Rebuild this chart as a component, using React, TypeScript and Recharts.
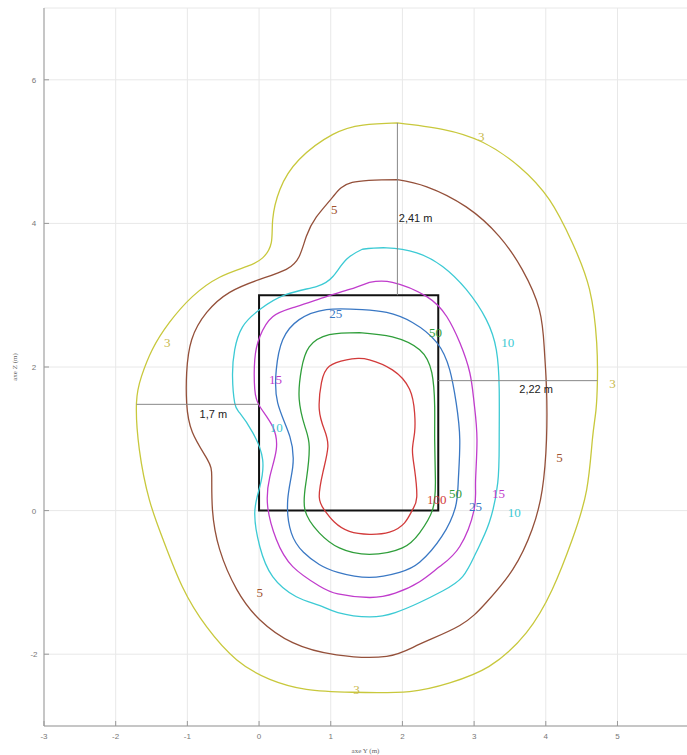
import {
  ComposedChart,
  Line,
  Scatter,
  XAxis,
  YAxis,
  CartesianGrid,
  ReferenceArea,
  ReferenceLine,
} from 'recharts';

type Pt = [number, number];

const xTicks = [-3, -2, -1, 0, 1, 2, 3, 4, 5];
const yTicks = [-2, 0, 2, 4, 6];

// iso-contours (axe Y, axe Z), clockwise from the top
const c3: Pt[] = [
  [1.93, 5.4], [2.56, 5.31], [3.12, 5.13], [3.63, 4.79], [4.05, 4.33], [4.37, 3.73],
  [4.61, 3.08], [4.71, 2.34], [4.72, 1.8], [4.7, 1.4], [4.65, 0.99], [4.57, 0.29],
  [4.37, -0.4], [4.09, -1.1], [3.73, -1.7], [3.21, -2.17], [2.66, -2.4], [2.1, -2.52],
  [1.3, -2.53], [0.66, -2.49], [0.15, -2.35], [-0.31, -2.08], [-0.73, -1.62],
  [-1.07, -1.06], [-1.34, -0.4], [-1.53, 0.15], [-1.67, 0.85], [-1.71, 1.5],
  [-1.64, 1.87], [-1.49, 2.24], [-1.25, 2.62], [-0.93, 2.98], [-0.55, 3.25],
  [-0.17, 3.4], [0.05, 3.52], [0.17, 3.73], [0.19, 4.05], [0.29, 4.47], [0.56, 4.89],
  [1.03, 5.24], [1.45, 5.37], [1.93, 5.4],
];
const c5: Pt[] = [
  [1.93, 4.61], [2.34, 4.51], [2.89, 4.23], [3.35, 3.82], [3.67, 3.36], [3.91, 2.8],
  [3.98, 2.24], [4.01, 1.7], [4.01, 0.99], [3.95, 0.29], [3.81, -0.26], [3.54, -0.82],
  [3.17, -1.28], [2.8, -1.6], [2.24, -1.86], [1.78, -2.03], [1.08, -2.01], [0.47, -1.84],
  [0.01, -1.52], [-0.31, -1.1], [-0.55, -0.54], [-0.65, 0.01], [-0.66, 0.47],
  [-0.72, 0.71], [-0.93, 1.09], [-1.01, 1.5], [-1.01, 1.92], [-0.94, 2.38],
  [-0.73, 2.76], [-0.41, 3.04], [0.01, 3.22], [0.38, 3.36], [0.56, 3.54], [0.66, 3.82],
  [0.8, 4.09], [1.03, 4.37], [1.3, 4.57], [1.93, 4.61],
];
const c10: Pt[] = [
  [1.44, 3.64], [1.78, 3.66], [2.2, 3.59], [2.56, 3.4], [2.89, 3.08], [3.17, 2.66],
  [3.31, 2.24], [3.35, 1.7], [3.35, 0.99], [3.33, 0.39], [3.21, -0.17], [3.03, -0.58],
  [2.84, -0.92], [2.56, -1.12], [2.24, -1.28], [1.9, -1.42], [1.54, -1.48], [1.1, -1.42],
  [0.84, -1.32], [0.52, -1.2], [0.19, -0.92], [0.01, -0.5], [-0.06, -0.03], [0.01, 0.33],
  [0.05, 0.71], [-0.09, 1.09], [-0.27, 1.36], [-0.34, 1.5], [-0.37, 1.87], [-0.34, 2.24],
  [-0.23, 2.56], [0.01, 2.8], [0.38, 3.01], [0.8, 3.12], [1.03, 3.26], [1.22, 3.5],
  [1.44, 3.64],
];
const c15: Pt[] = [
  [1.54, 3.18], [1.86, 3.18], [2.34, 2.98], [2.62, 2.7], [2.8, 2.34], [2.94, 1.92],
  [3.0, 1.5], [3.04, 0.99], [3.02, 0.39], [3.0, 0.01], [2.8, -0.5], [2.52, -0.78],
  [2.24, -0.99], [1.9, -1.15], [1.54, -1.21], [1.1, -1.16], [0.84, -1.05], [0.47, -0.78],
  [0.24, -0.4], [0.12, 0.06], [0.15, 0.47], [0.24, 0.85], [0.19, 1.17], [0.01, 1.45],
  [-0.06, 1.69], [-0.06, 2.1], [0.01, 2.42], [0.19, 2.7], [0.52, 2.84], [0.94, 2.98],
  [1.26, 3.08], [1.54, 3.18],
];
const c25: Pt[] = [
  [1.44, 2.8], [1.78, 2.76], [2.14, 2.62], [2.48, 2.34], [2.66, 1.96], [2.75, 1.5],
  [2.8, 0.99], [2.78, 0.43], [2.74, 0.05], [2.55, -0.36], [2.24, -0.72], [1.96, -0.86],
  [1.54, -0.93], [1.1, -0.86], [0.84, -0.75], [0.62, -0.58], [0.45, -0.31], [0.4, 0.15],
  [0.47, 0.61], [0.43, 1.03], [0.26, 1.5], [0.24, 1.96], [0.33, 2.38], [0.56, 2.66],
  [0.94, 2.8], [1.44, 2.8],
];
const c50: Pt[] = [
  [1.4, 2.48], [1.86, 2.42], [2.24, 2.24], [2.41, 1.92], [2.45, 1.45], [2.45, 0.99],
  [2.46, 0.43], [2.42, 0.01], [2.24, -0.31], [2.0, -0.52], [1.54, -0.61], [1.12, -0.52],
  [0.84, -0.31], [0.64, 0.01], [0.66, 0.43], [0.7, 0.89], [0.64, 1.17], [0.56, 1.55],
  [0.59, 1.96], [0.7, 2.28], [0.98, 2.45], [1.4, 2.48],
];
const c100: Pt[] = [
  [1.38, 2.12], [1.54, 2.1], [1.86, 1.96], [2.1, 1.69], [2.17, 1.36], [2.17, 1.09],
  [2.14, 0.85], [2.17, 0.57], [2.2, 0.19], [2.14, 0.01], [2.03, -0.17], [1.82, -0.3],
  [1.54, -0.33], [1.26, -0.29], [1.05, -0.16], [0.91, 0.01], [0.84, 0.19], [0.89, 0.53],
  [0.96, 0.89], [0.91, 1.13], [0.84, 1.41], [0.87, 1.78], [0.98, 2.01], [1.22, 2.1],
  [1.38, 2.12],
];

const contours = [
  { level: '3', pts: c3, color: '#c8c83c' },
  { level: '5', pts: c5, color: '#94503a' },
  { level: '10', pts: c10, color: '#3ccad4' },
  { level: '15', pts: c15, color: '#c03ccc' },
  { level: '25', pts: c25, color: '#3a78c4' },
  { level: '50', pts: c50, color: '#2f9e3a' },
  { level: '100', pts: c100, color: '#d23a3a' },
];

const levelLabels = [
  { x: 3.1, y: 5.21, t: '3', c: '#c8b84a' },
  { x: -1.28, y: 2.34, t: '3', c: '#c8b84a' },
  { x: 4.93, y: 1.77, t: '3', c: '#c8b84a' },
  { x: 1.36, y: -2.49, t: '3', c: '#c8b84a' },
  { x: 1.05, y: 4.19, t: '5', c: '#a0522d' },
  { x: 4.19, y: 0.74, t: '5', c: '#a0522d' },
  { x: 0.01, y: -1.14, t: '5', c: '#a0522d' },
  { x: 3.47, y: 2.34, t: '10', c: '#3ccad4' },
  { x: 0.24, y: 1.16, t: '10', c: '#3ccad4' },
  { x: 3.56, y: -0.03, t: '10', c: '#3ccad4' },
  { x: 0.23, y: 1.82, t: '15', c: '#c03ccc' },
  { x: 3.34, y: 0.24, t: '15', c: '#c03ccc' },
  { x: 1.07, y: 2.74, t: '25', c: '#3a78c4' },
  { x: 3.02, y: 0.06, t: '25', c: '#3a78c4' },
  { x: 2.46, y: 2.48, t: '50', c: '#2f9e3a' },
  { x: 2.74, y: 0.24, t: '50', c: '#2f9e3a' },
  { x: 2.48, y: 0.15, t: '100', c: '#d23a3a' },
];

const distLabels = [
  { x: 1.95, y: 4.08, t: '2,41 m' },
  { x: 3.63, y: 1.69, t: '2,22 m' },
  { x: -0.83, y: 1.35, t: '1,7 m' },
];

const toPts = (a: Pt[]) => a.map(([x, y]) => ({ x, y }));

const BottomTick = (props: any) => {
  const { x, y, payload } = props;
  return (
    <g>
      <line x1={x} x2={x} y1={y} y2={y - 5} stroke="#999" />
      <text x={x} y={y + 13} textAnchor="middle" fontSize={8} fill="#777" fontFamily="Liberation Sans, Arial, sans-serif">
        {payload.value}
      </text>
    </g>
  );
};

const TopTick = (props: any) => {
  const { x, y } = props;
  return <line x1={x} x2={x} y1={y} y2={y + 5} stroke="#999" />;
};

const LeftTick = (props: any) => {
  const { x, y, payload } = props;
  return (
    <g>
      <line x1={x} x2={x + 5} y1={y} y2={y} stroke="#999" />
      <text x={x - 10} y={y + 3} textAnchor="middle" fontSize={8} fill="#777" fontFamily="Liberation Sans, Arial, sans-serif">
        {payload.value}
      </text>
    </g>
  );
};

const LevelText = (p: any) => (
  <text
    x={p.cx}
    y={p.cy}
    fill={p.payload.c}
    fontSize={13}
    fontFamily="Liberation Serif, serif"
    textAnchor="middle"
    dominantBaseline="central"
  >
    {p.payload.t}
  </text>
);

const DistText = (p: any) => (
  <text
    x={p.cx}
    y={p.cy}
    fill="#222"
    fontSize={11}
    fontFamily="Liberation Sans, Arial, sans-serif"
    textAnchor="start"
    dominantBaseline="central"
  >
    {p.payload.t}
  </text>
);

export default function App() {
  return (
    <div
      style={{
        position: 'absolute',
        left: 0,
        top: 0,
        width: 687,
        height: 755,
        overflow: 'hidden',
        background: '#fff',
      }}
    >
      <ComposedChart width={725} height={755} margin={{ top: 8, right: 0, bottom: 0, left: 0 }}>
        <CartesianGrid stroke="#e8e8e8" />
        <XAxis
          dataKey="x"
          type="number"
          domain={[-3, 6.5]}
          ticks={xTicks}
          allowDataOverflow
          height={29}
          tickSize={0}
          tickMargin={0}
          axisLine={{ stroke: '#999' }}
          tick={<BottomTick />}
          label={{
            value: 'axe Y (m)',
            position: 'insideBottom',
            offset: 2,
            dx: -19,
            fontSize: 7,
            fill: '#666',
          }}
        />
        <XAxis
          xAxisId="top"
          orientation="top"
          type="number"
          domain={[-3, 6.5]}
          ticks={xTicks}
          allowDataOverflow
          height={0}
          tickSize={0}
          tickMargin={0}
          axisLine={{ stroke: '#999' }}
          tick={<TopTick />}
        />
        <YAxis
          dataKey="y"
          type="number"
          domain={[-3, 7]}
          ticks={yTicks}
          allowDataOverflow
          width={44}
          tickSize={0}
          tickMargin={0}
          axisLine={{ stroke: '#999' }}
          tick={<LeftTick />}
          label={{
            value: 'axe Z (m)',
            angle: -90,
            position: 'center',
            dx: -7,
            fontSize: 7,
            fill: '#666',
          }}
        />
        {contours.map((c) => (
          <Line
            key={c.level}
            data={toPts(c.pts)}
            dataKey="y"
            type="natural"
            stroke={c.color}
            strokeWidth={1.3}
            dot={false}
            activeDot={false}
            isAnimationActive={false}
          />
        ))}
        <ReferenceArea x1={0} x2={2.5} y1={0} y2={3} fill="none" fillOpacity={0} stroke="#111" strokeWidth={2} />
        <ReferenceLine segment={[{ x: 1.93, y: 3 }, { x: 1.93, y: 5.4 }]} stroke="#888" />
        <ReferenceLine segment={[{ x: 2.5, y: 1.81 }, { x: 4.72, y: 1.81 }]} stroke="#888" />
        <ReferenceLine segment={[{ x: -1.71, y: 1.48 }, { x: 0, y: 1.48 }]} stroke="#888" />
        <Scatter data={levelLabels} dataKey="y" shape={LevelText} isAnimationActive={false} />
        <Scatter data={distLabels} dataKey="y" shape={DistText} isAnimationActive={false} />
      </ComposedChart>
    </div>
  );
}
